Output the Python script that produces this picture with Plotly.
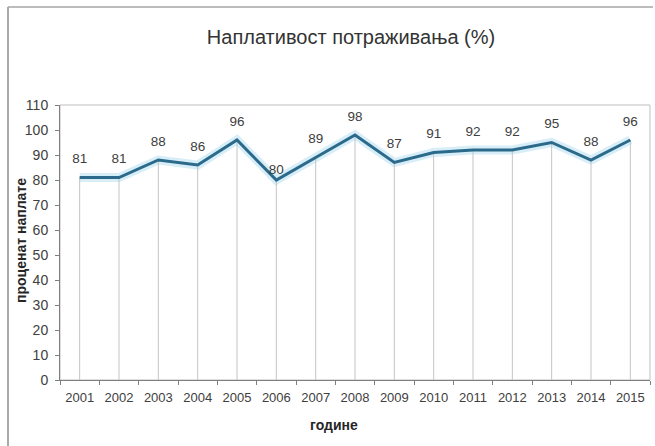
import plotly.graph_objects as go

years = ["2001", "2002", "2003", "2004", "2005", "2006", "2007", "2008",
         "2009", "2010", "2011", "2012", "2013", "2014", "2015"]
values = [81, 81, 88, 86, 96, 80, 89, 98, 87, 91, 92, 92, 95, 88, 96]
y_ticks = [0, 10, 20, 30, 40, 50, 60, 70, 80, 90, 100, 110]

title_text = "Наплативост потраживања (%)"
x_title = "године"
y_title = "проценат наплате"

W, H = 655, 446
ml, mr, mt, mb = 60, 5, 105, 66
PW, PH = W - ml - mr, H - mt - mb


def px_x(p):
    return (p - ml) / PW


def px_y(p):
    return (H - mb - p) / PH


FONT = "Liberation Sans, Arial"

fig = go.Figure()

# glow under the line
fig.add_trace(go.Scatter(
    x=years, y=values, mode="lines",
    line=dict(color="rgba(140,205,235,0.35)", width=9),
    hoverinfo="skip", showlegend=False,
))

# drop lines via error bars
fig.add_trace(go.Scatter(
    x=years, y=values, mode="markers",
    marker=dict(size=1, color="rgba(0,0,0,0)", line=dict(width=0)),
    error_y=dict(type="data", symmetric=False, array=[0] * len(values),
                 arrayminus=values, color="#c4c4c4", thickness=1, width=0),
    hoverinfo="skip", showlegend=False,
))

# main line with labels
sizes = [16] * len(values)
sizes[years.index("2006")] = 2
fig.add_trace(go.Scatter(
    x=years, y=values, mode="lines+markers+text",
    line=dict(color="#2b6a8a", width=3),
    marker=dict(size=sizes, color="rgba(0,0,0,0)", line=dict(width=0)),
    text=[str(v) for v in values], textposition="top center",
    textfont=dict(family=FONT, size=13.5, color="#404040"),
    showlegend=False,
))

fig.update_layout(
    width=W, height=H,
    margin=dict(l=ml, r=mr, t=mt, b=mb),
    paper_bgcolor="white", plot_bgcolor="white",
    font=dict(family=FONT, color="#404040", size=13),
    title=dict(text=title_text, x=351 / W, xanchor="center",
               y=1 - 37 / H, yanchor="middle",
               font=dict(size=20, color="#333333")),
    xaxis=dict(
        type="category", range=[-0.5, len(years) - 0.5],
        showgrid=False, showline=True, linecolor="#7f7f7f", linewidth=1,
        ticks="outside", ticklen=4, tickcolor="#7f7f7f", tickson="boundaries",
        tickfont=dict(size=13, color="#404040"), ticklabelstandoff=5,
        zeroline=False,
    ),
    yaxis=dict(
        range=[0, 110], tickvals=y_ticks,
        showgrid=False, showline=True, linecolor="#7f7f7f", linewidth=1,
        ticks="outside", ticklen=4, tickcolor="#7f7f7f",
        tickfont=dict(size=14, color="#404040"), ticklabelstandoff=4,
        zeroline=False,
    ),
    annotations=[
        dict(text="<b>" + x_title + "</b>", xref="paper", yref="paper",
             x=px_x(334), y=px_y(425), xanchor="center", yanchor="middle",
             showarrow=False, font=dict(size=14, color="#262626")),
        dict(text="<b>" + y_title + "</b>", xref="paper", yref="paper",
             x=px_x(21), y=px_y(241), xanchor="center", yanchor="middle",
             textangle=-90, showarrow=False,
             font=dict(size=14, color="#262626")),
    ],
    shapes=[
        # plot area border (top/right)
        dict(type="rect", xref="paper", yref="paper", x0=0, x1=1, y0=0, y1=1,
             line=dict(color="#bfbfbf", width=1), layer="below"),
        # outer chart frame
        dict(type="line", xref="paper", yref="paper",
             x0=px_x(8), x1=px_x(8), y0=px_y(446), y1=px_y(7),
             line=dict(color="#8c8c8c", width=1.5)),
        dict(type="line", xref="paper", yref="paper",
             x0=px_x(8), x1=px_x(653), y0=px_y(7), y1=px_y(7),
             line=dict(color="#a6a6a6", width=1.5)),
    ],
)

fig.write_html("out.html", config={"displayModeBar": False},
               post_script="document.body.style.margin='0';")
